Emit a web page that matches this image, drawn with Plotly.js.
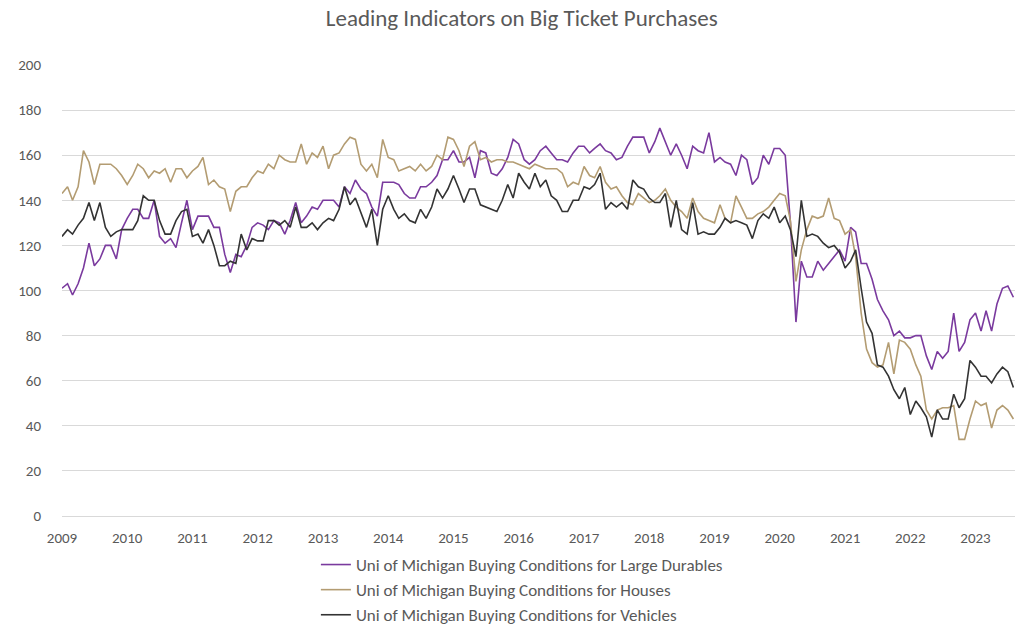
<!DOCTYPE html>
<html>
<head>
<meta charset="utf-8">
<script src="https://cdn.plot.ly/plotly-3.0.1.min.js"></script>
<style>
  html, body { margin: 0; padding: 0; background: #ffffff; }
  #chart { width: 1017px; height: 626px; }
</style>
</head>
<body>
<div id="chart"></div>
<script>
// Monthly observations, Jan 2009 .. Aug 2023
const startYear = 2009;
const startMonth = 1;

const largeDurables = [
  101, 103, 98, 103, 110, 121, 111, 114, 120, 120, 114, 127,
  132, 136, 136, 132, 132, 140, 124, 121, 123, 119, 130, 140,
  127, 133, 133, 133, 128, 128, 116, 108, 116, 115, 120, 128,
  130, 129, 127, 131, 130, 125, 131, 139, 130, 133, 137, 136,
  140, 140, 140, 137, 146, 143, 149, 145, 143, 137, 133, 148,
  148, 148, 147, 143, 141, 141, 146, 146, 148, 151, 158, 158,
  162, 157, 157, 159, 150, 162, 161, 152, 151, 154, 159, 167,
  165, 158, 156, 158, 162, 164, 161, 158, 158, 157, 161, 164,
  164, 161, 163, 165, 162, 161, 158, 159, 164, 168, 168, 168,
  161, 166, 172, 166, 160, 165, 160, 154, 164, 162, 161, 170,
  157, 159, 157, 156, 151, 160, 158, 147, 150, 160, 156, 163,
  163, 160, 130, 86, 113, 106, 106, 113, 109, 112, 115, 118,
  113, 128, 126, 112, 112, 105, 96, 91, 87, 80, 82, 79,
  79, 80, 80, 71, 65, 73, 70, 73, 90, 73, 77, 87,
  90, 82, 91, 82, 94, 101, 102, 97
];

const houses = [
  143, 146, 140, 146, 162, 157, 147, 156, 156, 156, 154, 151,
  147, 151, 156, 154, 150, 153, 152, 154, 148, 154, 154, 150,
  153, 155, 159, 147, 149, 146, 145, 135, 144, 146, 146, 150,
  153, 152, 156, 154, 160, 158, 157, 157, 165, 156, 161, 159,
  164, 154, 160, 161, 165, 168, 167, 156, 153, 156, 150, 167,
  159, 158, 153, 154, 155, 153, 156, 153, 155, 160, 158, 168,
  167, 162, 155, 164, 166, 158, 159, 157, 158, 158, 157, 157,
  156, 155, 154, 156, 155, 154, 154, 154, 152, 146, 148, 147,
  155, 151, 150, 155, 148, 145, 146, 142, 139, 138, 143, 141,
  139, 140, 142, 145, 140, 137, 135, 132, 141, 135, 132, 131,
  130, 138, 132, 130, 142, 137, 132, 132, 134, 135, 137, 140,
  143, 142, 131, 104, 118, 127, 133, 132, 133, 141, 132, 131,
  125, 127, 115, 90, 74, 68, 66, 67, 77, 63, 78, 77,
  74, 67, 62, 47, 43, 47, 48, 48, 49, 34, 34, 43,
  51, 49, 50, 39, 47, 49, 47, 43
];

const vehicles = [
  124, 127, 125, 129, 132, 139, 131, 139, 128, 124, 126, 127,
  127, 127, 131, 142, 140, 140, 131, 125, 125, 131, 135, 136,
  124, 125, 121, 127, 120, 111, 111, 113, 112, 125, 118, 123,
  122, 122, 131, 131, 129, 131, 128, 137, 128, 128, 130, 127,
  130, 132, 131, 136, 146, 138, 141, 134, 128, 136, 120, 136,
  142, 136, 132, 134, 131, 130, 136, 132, 137, 145, 141, 145,
  151, 145, 139, 145, 145, 138, 137, 136, 135, 140, 147, 141,
  152, 148, 145, 152, 146, 149, 142, 140, 135, 135, 140, 140,
  146, 145, 147, 152, 136, 139, 137, 139, 136, 149, 146, 145,
  141, 139, 139, 143, 128, 140, 127, 125, 139, 125, 126, 125,
  125, 128, 132, 130, 131, 130, 129, 123, 131, 134, 132, 137,
  130, 133, 127, 115, 140, 124, 125, 124, 121, 119, 120, 117,
  110, 113, 118, 101, 86, 81, 67, 66, 62, 56, 52, 57,
  45, 51, 48, 44, 35, 47, 43, 43, 54, 48, 52, 69,
  66, 62, 62, 59, 63, 66, 64, 57
];

const seriesNames = [
  "Uni of Michigan Buying Conditions for Large Durables",
  "Uni of Michigan Buying Conditions for Houses",
  "Uni of Michigan Buying Conditions for Vehicles"
];
const yTicks = [0, 20, 40, 60, 80, 100, 120, 140, 160, 180, 200];
const yearLabels = ["2009","2010","2011","2012","2013","2014","2015","2016","2017","2018","2019","2020","2021","2022","2023"];

// Month dates for each observation
function monthDates(n) {
  const out = [];
  for (let i = 0; i < n; i++) {
    const total = (startMonth - 1) + i;
    const y = startYear + Math.floor(total / 12);
    const m = (total % 12) + 1;
    out.push(y + "-" + String(m).padStart(2, "0") + "-01");
  }
  return out;
}
const dates = monthDates(largeDurables.length);
const yearTickVals = yearLabels.map(y => y + "-01-01");

const FONT = 'Calibri, Carlito, "Open Sans", "Liberation Sans", sans-serif';
const TXT = "#595959";

const traces = [
  { x: dates, y: largeDurables, name: seriesNames[0], type: "scatter", mode: "lines",
    line: { color: "#7a3a9e", width: 1.6 } },
  { x: dates, y: houses, name: seriesNames[1], type: "scatter", mode: "lines",
    line: { color: "#b39c72", width: 1.6 } },
  { x: dates, y: vehicles, name: seriesNames[2], type: "scatter", mode: "lines",
    line: { color: "#333333", width: 1.6 } }
];

const layout = {
  width: 1017,
  height: 626,
  paper_bgcolor: "#ffffff",
  plot_bgcolor: "#ffffff",
  margin: { l: 62, r: 2, t: 65, b: 110 },
  font: { family: FONT, color: TXT, size: 15 },
  title: {
    text: "Leading Indicators on Big Ticket Purchases",
    font: { family: FONT, size: 23, color: TXT },
    xref: "container",
    x: 0.513, xanchor: "center", y: 0.971, yanchor: "middle"
  },
  showlegend: true,
  legend: {
    orientation: "v",
    xref: "paper", yref: "container",
    x: 0.2664, xanchor: "left",
    y: 0.1262, yanchor: "top",
    font: { family: FONT, size: 17, color: TXT },
    bgcolor: "rgba(0,0,0,0)",
    itemwidth: 30,
    tracegroupgap: 0
  },
  xaxis: {
    type: "date",
    range: ["2009-01-01", "2023-08-10"],
    tickvals: yearTickVals,
    ticktext: yearLabels,
    showgrid: false,
    zeroline: false,
    showline: true,
    linecolor: "#d9d9d9",
    linewidth: 1,
    ticks: "",
    ticklabelstandoff: 8,
    tickfont: { family: FONT, size: 15, color: TXT },
    fixedrange: true
  },
  yaxis: {
    range: [0, 200],
    tickvals: yTicks,
    ticktext: yTicks.map(String),
    showgrid: true,
    gridcolor: "#d9d9d9",
    gridwidth: 1,
    zeroline: false,
    showline: false,
    ticks: "",
    ticklabelstandoff: 20,
    tickfont: { family: FONT, size: 15, color: TXT },
    fixedrange: true
  }
};

Plotly.newPlot("chart", traces, layout, { displayModeBar: false, staticPlot: true });
</script>
</body>
</html>
